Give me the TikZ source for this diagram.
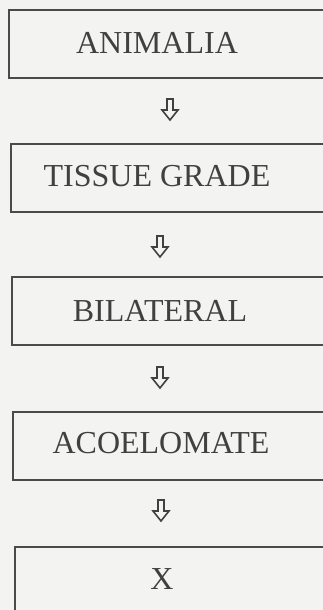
\documentclass[tikz,border=0pt]{standalone}
\usepackage{fontspec}
\setmainfont{Liberation Serif}
\definecolor{paper}{HTML}{F3F3F1}
\definecolor{ink}{HTML}{4A4A4A}
\definecolor{txtink}{HTML}{404040}
\tikzset{
  box/.style={draw=ink, line width=1.8pt, rectangle, inner sep=0pt, anchor=north west, minimum width=340pt, minimum height=68pt},
  lbl/.style={text=txtink, font=\fontsize{32}{38}\selectfont, inner sep=0pt},
  harrow/.style={draw=txtink, line width=1.6pt, line join=miter},
  downarrow/.pic={\draw[harrow] (-3,-10) -- (3,-10) -- (3,1) -- (8,1) -- (0,11) -- (-8,1) -- (-3,1) -- cycle;}
}
\begin{document}
\begin{tikzpicture}[x=1pt,y=-1pt]
\fill[paper] (0,0) rectangle (323,610);
\useasboundingbox (0,0) rectangle (323,610);
\clip (0,0) rectangle (323,610);
\node[box] (b1) at (8,9) {};
\node[box] (b2) at (10,143) {};
\node[box] (b3) at (11,276) {};
\node[box] (b4) at (12,411) {};
\node[box] (b5) at (14,546) {};
\node[lbl] (t1) at (157,43) {ANIMALIA};
\node[lbl] (t2) at (157,176) {TISSUE GRADE};
\node[lbl] (t3) at (160,311) {BILATERAL};
\node[lbl] (t4) at (161,443) {ACOELOMATE};
\node[lbl] (t5) at (162,579) {X};
\pic at (170,109) {downarrow};
\pic at (160,246) {downarrow};
\pic at (160,377) {downarrow};
\pic at (161,510) {downarrow};
\end{tikzpicture}
\end{document}
